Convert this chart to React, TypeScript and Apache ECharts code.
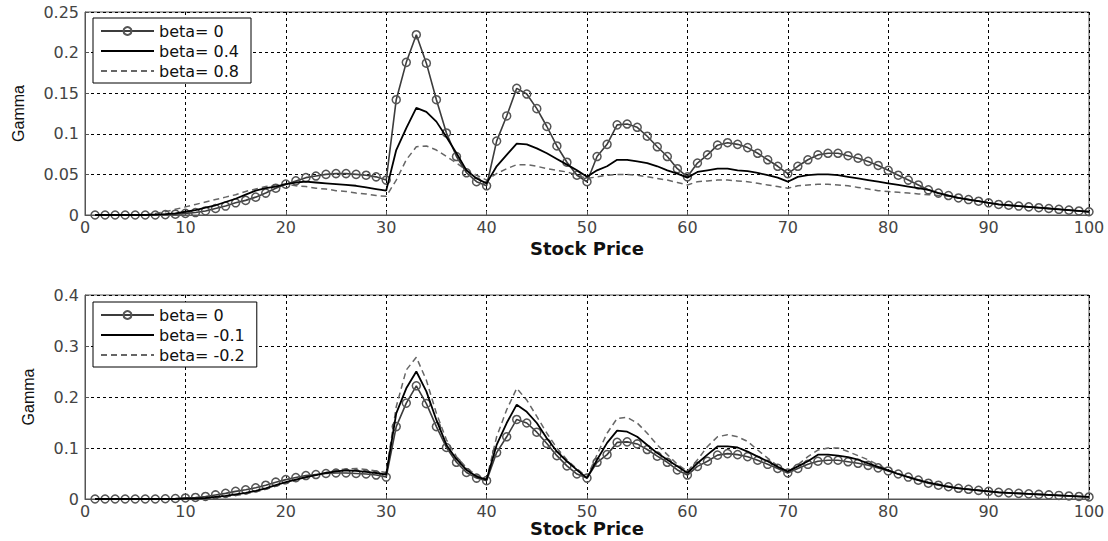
import React, { useEffect, useRef } from "react";
import * as echarts from "echarts";

const stockPrice = [
  1, 2, 3, 4, 5, 6, 7, 8, 9, 10, 11, 12, 13, 14, 15, 16, 17, 18, 19, 20,
  21, 22, 23, 24, 25, 26, 27, 28, 29, 30, 31, 32, 33, 34, 35, 36, 37, 38, 39, 40,
  41, 42, 43, 44, 45, 46, 47, 48, 49, 50, 51, 52, 53, 54, 55, 56, 57, 58, 59, 60,
  61, 62, 63, 64, 65, 66, 67, 68, 69, 70, 71, 72, 73, 74, 75, 76, 77, 78, 79, 80,
  81, 82, 83, 84, 85, 86, 87, 88, 89, 90, 91, 92, 93, 94, 95, 96, 97, 98, 99, 100,
];

const gammaBeta0 = [
  0, 0, 0, 0, 0, 0, 0, 0.0005, 0.001, 0.002,
  0.003, 0.005, 0.008, 0.011, 0.015, 0.018, 0.022, 0.027, 0.033, 0.038,
  0.042, 0.046, 0.048, 0.05, 0.051, 0.051, 0.05, 0.049, 0.047, 0.043,
  0.142, 0.188, 0.222, 0.187, 0.142, 0.101, 0.072, 0.052, 0.041, 0.036,
  0.091, 0.122, 0.156, 0.149, 0.131, 0.109, 0.085, 0.065, 0.049, 0.041,
  0.072, 0.087, 0.111, 0.112, 0.108, 0.097, 0.084, 0.072, 0.057, 0.047,
  0.064, 0.074, 0.086, 0.089, 0.087, 0.083, 0.076, 0.068, 0.06, 0.051,
  0.06, 0.068, 0.074, 0.076, 0.076, 0.073, 0.07, 0.066, 0.061, 0.055,
  0.049, 0.043, 0.037, 0.031, 0.027, 0.024, 0.021, 0.019, 0.017, 0.015,
  0.013, 0.012, 0.011, 0.01, 0.009, 0.008, 0.007, 0.006, 0.005, 0.004,
];

const gammaBeta04 = [
  0, 0, 0, 0, 0, 0, 0.0005, 0.001, 0.002, 0.004,
  0.006, 0.009, 0.012, 0.016, 0.02, 0.025, 0.03, 0.033, 0.035, 0.038,
  0.04, 0.041, 0.04, 0.039, 0.038, 0.037, 0.036, 0.034, 0.032, 0.03,
  0.08, 0.107, 0.132, 0.127, 0.115, 0.096, 0.076, 0.055, 0.045, 0.039,
  0.06, 0.074, 0.088, 0.087, 0.082, 0.076, 0.069, 0.062, 0.055, 0.047,
  0.055, 0.06, 0.068, 0.068, 0.066, 0.064, 0.06, 0.055, 0.051, 0.046,
  0.053, 0.055, 0.057, 0.057, 0.055, 0.054, 0.052, 0.049, 0.046, 0.041,
  0.047, 0.049, 0.05, 0.05, 0.049, 0.047, 0.045, 0.043, 0.041, 0.039,
  0.037, 0.035, 0.033, 0.031, 0.027, 0.024, 0.021, 0.019, 0.017, 0.015,
  0.013, 0.012, 0.011, 0.01, 0.009, 0.008, 0.007, 0.006, 0.005, 0.004,
];

const gammaBeta08 = [
  0, 0, 0, 0, 0, 0, 0.002, 0.004, 0.007, 0.01,
  0.013, 0.016, 0.019, 0.022, 0.025, 0.029, 0.032, 0.035, 0.037, 0.038,
  0.036, 0.035, 0.033, 0.032, 0.03, 0.029, 0.027, 0.026, 0.024, 0.023,
  0.043, 0.068, 0.084, 0.085, 0.08, 0.072, 0.064, 0.055, 0.049, 0.043,
  0.051, 0.057, 0.062, 0.062, 0.06, 0.057, 0.055, 0.053, 0.049, 0.045,
  0.047, 0.049, 0.05, 0.05, 0.049, 0.047, 0.045, 0.043, 0.04, 0.037,
  0.041, 0.042, 0.043, 0.043, 0.042, 0.041, 0.039, 0.037, 0.035, 0.033,
  0.036, 0.037, 0.038, 0.038, 0.037, 0.036, 0.034, 0.032, 0.03, 0.029,
  0.028, 0.027, 0.026, 0.025, 0.024, 0.023, 0.021, 0.019, 0.017, 0.015,
  0.013, 0.012, 0.011, 0.01, 0.009, 0.008, 0.007, 0.006, 0.005, 0.004,
];

const gammaBetaM01 = [
  0, 0, 0, 0, 0, 0, 0, 0, 0, 0.001,
  0.001, 0.002, 0.004, 0.006, 0.009, 0.012, 0.016, 0.021, 0.027, 0.033,
  0.038, 0.043, 0.047, 0.051, 0.054, 0.056, 0.055, 0.053, 0.051, 0.048,
  0.168, 0.217, 0.25, 0.211, 0.155, 0.106, 0.078, 0.057, 0.044, 0.038,
  0.106, 0.149, 0.185, 0.171, 0.149, 0.119, 0.093, 0.074, 0.057, 0.041,
  0.077, 0.11, 0.134, 0.132, 0.122, 0.106, 0.09, 0.077, 0.064, 0.051,
  0.07, 0.087, 0.103, 0.103, 0.101, 0.093, 0.083, 0.074, 0.063, 0.054,
  0.064, 0.074, 0.087, 0.087, 0.085, 0.082, 0.077, 0.07, 0.063, 0.056,
  0.049, 0.043, 0.037, 0.032, 0.028, 0.024, 0.021, 0.019, 0.017, 0.015,
  0.013, 0.012, 0.011, 0.01, 0.009, 0.008, 0.007, 0.006, 0.005, 0.004,
];

const gammaBetaM02 = [
  0, 0, 0, 0, 0, 0, 0, 0, 0, 0.001,
  0.001, 0.001, 0.003, 0.005, 0.007, 0.01, 0.014, 0.019, 0.025, 0.031,
  0.037, 0.042, 0.047, 0.052, 0.056, 0.059, 0.06, 0.058, 0.055, 0.052,
  0.181, 0.253, 0.278, 0.233, 0.168, 0.116, 0.083, 0.061, 0.046, 0.039,
  0.122, 0.175, 0.217, 0.194, 0.162, 0.129, 0.1, 0.077, 0.059, 0.043,
  0.087, 0.129, 0.158, 0.16, 0.149, 0.129, 0.106, 0.087, 0.068, 0.054,
  0.077, 0.103, 0.122, 0.126, 0.122, 0.113, 0.096, 0.08, 0.065, 0.054,
  0.067, 0.083, 0.096, 0.1, 0.1, 0.093, 0.085, 0.077, 0.067, 0.057,
  0.05, 0.043, 0.038, 0.033, 0.029, 0.025, 0.022, 0.019, 0.017, 0.015,
  0.013, 0.012, 0.011, 0.01, 0.009, 0.008, 0.007, 0.006, 0.005, 0.004,
];

const topLegend = ["beta= 0", "beta= 0.4", "beta= 0.8"];
const bottomLegend = ["beta= 0", "beta= -0.1", "beta= -0.2"];
const xAxisTitle = "Stock Price";
const yAxisTitle = "Gamma";

const FONT = "DejaVu Sans";

function pairs(ys: number[]) {
  return stockPrice.map((x, i) => [x, ys[i]]);
}

function circleSeries(name: string, idx: number, ys: number[]) {
  return {
    name,
    type: "line",
    xAxisIndex: idx,
    yAxisIndex: idx,
    data: pairs(ys),
    symbol: "circle",
    symbolSize: 8,
    showSymbol: true,
    showAllSymbol: true,
    z: 3,
    itemStyle: { color: "rgba(255,255,255,0)", borderColor: "#555", borderWidth: 1.5 },
    lineStyle: { color: "#3c3c3c", width: 1.6 },
  };
}

function solidSeries(name: string, idx: number, ys: number[]) {
  return {
    name,
    type: "line",
    xAxisIndex: idx,
    yAxisIndex: idx,
    data: pairs(ys),
    symbol: "none",
    z: 4,
    itemStyle: { color: "#000" },
    lineStyle: { color: "#000", width: 1.8 },
  };
}

function dashedSeries(name: string, idx: number, ys: number[]) {
  return {
    name,
    type: "line",
    xAxisIndex: idx,
    yAxisIndex: idx,
    data: pairs(ys),
    symbol: "none",
    z: 2,
    itemStyle: { color: "#666" },
    lineStyle: { color: "#666", width: 1.5, type: [6, 4] },
  };
}

function xAxis(gridIndex: number, nameGap: number) {
  return {
    type: "value",
    gridIndex,
    min: 0,
    max: 100,
    interval: 10,
    name: xAxisTitle,
    nameLocation: "middle",
    nameGap,
    nameTextStyle: { fontFamily: FONT, fontSize: 18, fontWeight: "bold", color: "#111" },
    axisLine: { show: true, lineStyle: { color: "#555", width: 1 } },
    axisTick: { show: true, inside: true, length: 4, lineStyle: { color: "#555" } },
    axisLabel: { fontFamily: FONT, fontSize: 16, color: "#444", margin: 4 },
    splitLine: { show: true, lineStyle: { color: "#000", width: 1, type: [3, 3] } },
  };
}

function yAxis(gridIndex: number, max: number, interval: number, nameGap: number) {
  return {
    type: "value",
    gridIndex,
    min: 0,
    max,
    interval,
    name: yAxisTitle,
    nameLocation: "middle",
    nameGap,
    nameTextStyle: { fontFamily: "Liberation Sans", fontSize: 16, color: "#111" },
    axisLine: { show: true, lineStyle: { color: "#555", width: 1 } },
    axisTick: { show: true, inside: true, length: 4, lineStyle: { color: "#555" } },
    axisLabel: { fontFamily: FONT, fontSize: 16, color: "#444", margin: 6 },
    splitLine: { show: true, lineStyle: { color: "#000", width: 1, type: [3, 3] } },
  };
}

function legend(names: string[], top: number) {
  return {
    data: names.map((n, i) => (i === 0 ? { name: n } : { name: n, itemStyle: { opacity: 0 } })),
    orient: "vertical",
    left: 93,
    top,
    itemWidth: 53,
    itemHeight: 10,
    itemGap: 4,
    padding: [5, 12, 4, 7],
    backgroundColor: "#fff",
    borderColor: "#000",
    borderWidth: 1,
    borderRadius: 0,
    selectedMode: false,
    textStyle: { fontFamily: FONT, fontSize: 16, color: "#111" },
  };
}

export default function App() {
  const ref = useRef<HTMLDivElement>(null);
  useEffect(() => {
    document.body.style.margin = "0";
    const chart = echarts.init(ref.current!, null, { renderer: "svg" });
    chart.setOption({
      animation: false,
      backgroundColor: "#fff",
      grid: [
        { left: 85, top: 12, width: 1004, height: 203, show: true, borderColor: "#555", borderWidth: 1, backgroundColor: "#fff" },
        { left: 85, top: 295, width: 1004, height: 204, show: true, borderColor: "#555", borderWidth: 1, backgroundColor: "#fff" },
      ],
      legend: [legend(topLegend, 18), legend(bottomLegend, 302)],
      xAxis: [xAxis(0, 24), xAxis(1, 17)],
      yAxis: [yAxis(0, 0.25, 0.05, 59), yAxis(1, 0.4, 0.1, 49)],
      series: [
        dashedSeries(topLegend[2], 0, gammaBeta08),
        solidSeries(topLegend[1], 0, gammaBeta04),
        circleSeries(topLegend[0], 0, gammaBeta0),
        dashedSeries(bottomLegend[2], 1, gammaBetaM02),
        solidSeries(bottomLegend[1], 1, gammaBetaM01),
        circleSeries(bottomLegend[0], 1, gammaBeta0),
      ],
    });
    return () => chart.dispose();
  }, []);
  return <div ref={ref} style={{ width: 1108, height: 541 }} />;
}
